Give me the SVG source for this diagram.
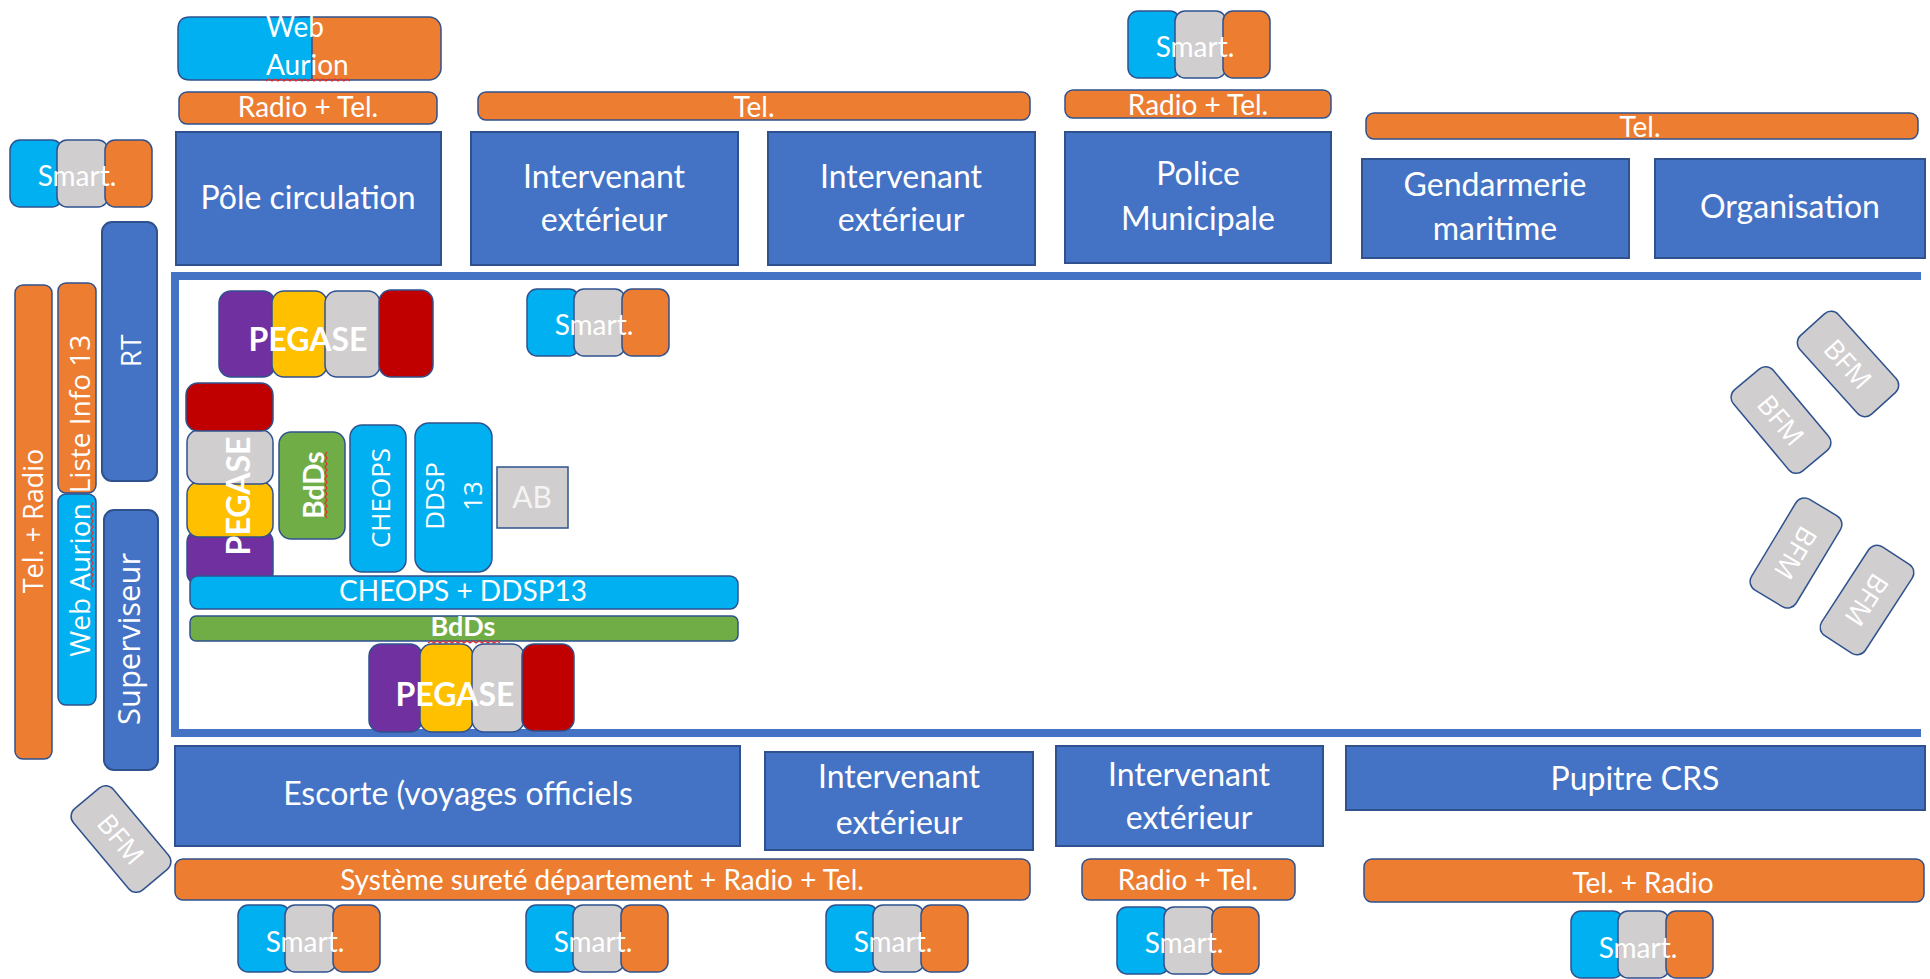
<svg xmlns="http://www.w3.org/2000/svg" xmlns:xlink="http://www.w3.org/1999/xlink" width="1930" height="979" viewBox="0 0 1930 979">
<style>
.bx{fill:#4472C4;stroke:#2F528F;stroke-width:2}
.or{fill:#ED7D31;stroke:#2F528F;stroke-width:1.5}
.cy{fill:#00B0F0;stroke:#2F528F;stroke-width:1.5}
.gy{fill:#D0CECE;stroke:#2F528F;stroke-width:1.5}
.pu{fill:#7030A0;stroke:#2F528F;stroke-width:1.5}
.ye{fill:#FFC000;stroke:#2F528F;stroke-width:1.5}
.rd{fill:#C00000;stroke:#2F528F;stroke-width:1.5}
.gr{fill:#70AD47;stroke:#2F528F;stroke-width:1.5}
.t{font-family:Lato,"Liberation Sans",sans-serif;fill:#fff;text-anchor:middle}
.big{font-size:32px}
.md{font-size:28px}
.b{font-weight:bold}
.v{font-family:"Open Sans","Liberation Sans",sans-serif;fill:#fff;text-anchor:middle}
.bfm{font-size:27px}
.wave{fill:none;stroke:#E03030;stroke-width:1.3}
.frame{fill:none;stroke:#4472C4;stroke-width:8}
</style>
<defs>
<g id="smartShape">
<rect class="cy" x="0" y="0" width="52" height="67" rx="10"/>
<rect class="gy" x="47" y="0" width="51" height="67" rx="10"/>
<rect class="or" x="95" y="0" width="47" height="67" rx="10"/>
</g>
<g id="bfmShape">
<rect class="gy" x="-53" y="-26" width="106" height="52" rx="10"/>
</g>
</defs>

<g id="connectors">
<path class="frame" d="M1921,276 H175 V733 H1921"/>
</g>

<!-- top row -->
<g id="web-aurion-top">
<rect class="or" x="290" y="17" width="151" height="63" rx="12"/>
<path class="cy" d="M190,17 H312 V80 H190 Q178,80 178,68 V29 Q178,17 190,17 Z"/>
<text class="t md" x="266" y="37" style="text-anchor:start">Web</text>
<text class="t md" x="266" y="75" style="text-anchor:start">Aurion</text>
<path class="wave" d="M266,81 l3,-2 l3,2 l3,-2 l3,2 l3,-2 l3,2 l3,-2 l3,2 l3,-2 l3,2 l3,-2 l3,2 l3,-2 l3,2 l3,-2 l3,2 l3,-2 l3,2 l3,-2 l3,2 l3,-2 l3,2 l3,-2 l3,2 l3,-2 l3,2 l3,-2 l3,2"/>
</g>
<g id="radio-tel-1">
<rect class="or" x="179" y="92" width="258" height="32" rx="8"/>
<text class="t md" x="308" y="117">Radio + Tel.</text>
</g>
<g id="smart-left">
<use xlink:href="#smartShape" x="10" y="140"/>
<text class="t md" x="77" y="186">Smart.</text>
</g>
<g id="pole-circulation">
<rect class="bx" x="176" y="132" width="265" height="133"/>
<text class="t big" x="308" y="209">Pôle circulation</text>
</g>
<g id="tel-top-mid">
<rect class="or" x="478" y="92" width="552" height="28" rx="8"/>
<text class="t md" x="754" y="117">Tel.</text>
</g>
<g id="intervenant-1">
<rect class="bx" x="471" y="132" width="267" height="133"/>
<text class="t big" x="604" y="188">Intervenant</text>
<text class="t big" x="604" y="231">extérieur</text>
</g>
<g id="intervenant-2">
<rect class="bx" x="768" y="132" width="267" height="133"/>
<text class="t big" x="901" y="188">Intervenant</text>
<text class="t big" x="901" y="231">extérieur</text>
</g>
<g id="smart-top">
<use xlink:href="#smartShape" x="1128" y="11"/>
<text class="t md" x="1195" y="57">Smart.</text>
</g>
<g id="radio-tel-2">
<rect class="or" x="1065" y="90" width="266" height="28" rx="8"/>
<text class="t md" x="1198" y="115">Radio + Tel.</text>
</g>
<g id="police-municipale">
<rect class="bx" x="1065" y="132" width="266" height="131"/>
<text class="t big" x="1198" y="185">Police</text>
<text class="t big" x="1198" y="230">Municipale</text>
</g>
<g id="tel-top-right">
<rect class="or" x="1366" y="113" width="552" height="26" rx="8"/>
<text class="t md" x="1640" y="137">Tel.</text>
</g>
<g id="gendarmerie">
<rect class="bx" x="1362" y="159" width="267" height="99"/>
<text class="t big" x="1495" y="196">Gendarmerie</text>
<text class="t big" x="1495" y="240">maritime</text>
</g>
<g id="organisation">
<rect class="bx" x="1655" y="159" width="270" height="99"/>
<text class="t big" x="1790" y="218">Organisation</text>
</g>

<!-- left column -->
<g id="tel-radio-left">
<rect class="or" x="15" y="285" width="37" height="474" rx="8"/>
<text class="v" style="font-size:27px" transform="translate(43,521) rotate(-90)">Tel. + Radio</text>
</g>
<g id="liste-info">
<rect class="or" x="58" y="283" width="38" height="210" rx="8"/>
<text class="v" style="font-size:28px" transform="translate(90,414) rotate(-90)">Liste Info 13</text>
</g>
<g id="web-aurion-left">
<rect class="cy" x="58" y="494" width="38" height="211" rx="8"/>
<text class="v" style="font-size:28px" transform="translate(90,580) rotate(-90)">Web Aurion</text>
<path class="wave" d="M93,503 l-2,3 l2,3 l-2,3 l2,3 l-2,3 l2,3 l-2,3 l2,3 l-2,3 l2,3 l-2,3 l2,3 l-2,3 l2,3 l-2,3 l2,3 l-2,3 l2,3 l-2,3 l2,3 l-2,3 l2,3 l-2,3 l2,3 l-2,3 l2,3 l-2,3 l2,3"/>
</g>
<g id="rt">
<rect class="bx" x="102" y="222" width="55" height="259" rx="10"/>
<text class="v" style="font-size:28px" transform="translate(141,351) rotate(-90)">RT</text>
</g>
<g id="superviseur">
<rect class="bx" x="104" y="510" width="54" height="260" rx="10"/>
<text class="v" style="font-size:31px" transform="translate(140,639) rotate(-90)">Superviseur</text>
</g>
<g id="bfm-left" transform="translate(121,839) rotate(50)">
<use xlink:href="#bfmShape"/>
<text class="v bfm" y="10">BFM</text>
</g>

<!-- inside frame -->
<g id="pegase-top">
<rect class="pu" x="219" y="291" width="56" height="86" rx="12"/>
<rect class="ye" x="272" y="291" width="55" height="86" rx="12"/>
<rect class="gy" x="325" y="291" width="55" height="86" rx="12"/>
<rect class="rd" x="379" y="290" width="54" height="87" rx="12"/>
<text class="t b" style="font-size:32px" x="308" y="351">PEGASE</text>
</g>
<g id="smart-frame">
<use xlink:href="#smartShape" x="527" y="289"/>
<text class="t md" x="594" y="335">Smart.</text>
</g>
<g id="pegase-vertical">
<rect class="pu" x="187" y="530" width="86" height="55" rx="12"/>
<rect class="ye" x="187" y="482" width="86" height="55" rx="12"/>
<rect class="gy" x="187" y="430" width="86" height="54" rx="12"/>
<rect class="rd" x="186" y="383" width="87" height="48" rx="12"/>
<text class="t b" style="font-size:32px" transform="translate(250,496) rotate(-90)">PEGASE</text>
</g>
<g id="bdds-vertical">
<rect class="gr" x="279" y="432" width="66" height="107" rx="12"/>
<text class="t b" style="font-size:28px" transform="translate(324,485) rotate(-90)">BdDs</text>
<path class="wave" d="M327,452 l-2,3 l2,3 l-2,3 l2,3 l-2,3 l2,3 l-2,3 l2,3 l-2,3 l2,3 l-2,3 l2,3 l-2,3 l2,3 l-2,3 l2,3 l-2,3 l2,3 l-2,3 l2,3 l-2,3 l2,3"/>
</g>
<g id="cheops-vertical">
<rect class="cy" x="350" y="425" width="56" height="147" rx="12"/>
<text class="v" style="font-size:26px" transform="translate(390,498) rotate(-90)">CHEOPS</text>
</g>
<g id="ddsp-vertical">
<rect class="cy" x="415" y="423" width="77" height="149" rx="14"/>
<text class="v" style="font-size:26px" transform="translate(444,496) rotate(-90)">DDSP</text>
<text class="v" style="font-size:26px" transform="translate(482,496) rotate(-90)">13</text>
</g>
<g id="ab">
<rect class="gy" x="497" y="467" width="71" height="61"/>
<text class="t" style="font-size:30px;fill:#F4F4F4" x="532" y="508">AB</text>
</g>
<g id="cheops-ddsp-bar">
<rect class="cy" x="190" y="576" width="548" height="33" rx="8"/>
<text class="t md" x="463" y="601">CHEOPS + DDSP13</text>
</g>
<g id="bdds-bar">
<rect class="gr" x="190" y="616" width="548" height="25" rx="6"/>
<text class="t b" style="font-size:27px" x="463" y="636">BdDs</text>
<path class="wave" d="M428,643 l3,-2 l3,2 l3,-2 l3,2 l3,-2 l3,2 l3,-2 l3,2 l3,-2 l3,2 l3,-2 l3,2 l3,-2 l3,2 l3,-2 l3,2 l3,-2 l3,2 l3,-2 l3,2 l3,-2 l3,2 l3,-2 l3,2"/>
</g>
<g id="pegase-bottom">
<rect class="pu" x="369" y="644" width="53" height="88" rx="12"/>
<rect class="ye" x="420" y="644" width="53" height="88" rx="12"/>
<rect class="gy" x="472" y="644" width="52" height="88" rx="12"/>
<rect class="rd" x="522" y="644" width="52" height="87" rx="12"/>
<text class="t b" style="font-size:32px" x="455" y="706">PEGASE</text>
</g>
<g id="bfm-1" transform="translate(1848,364) rotate(48)">
<use xlink:href="#bfmShape"/>
<text class="v bfm" y="10">BFM</text>
</g>
<g id="bfm-2" transform="translate(1781,420) rotate(50)">
<use xlink:href="#bfmShape"/>
<text class="v bfm" y="10">BFM</text>
</g>
<g id="bfm-3" transform="translate(1796,553) rotate(121)">
<use xlink:href="#bfmShape"/>
<text class="v bfm" y="10">BFM</text>
</g>
<g id="bfm-4" transform="translate(1867,600) rotate(123)">
<use xlink:href="#bfmShape"/>
<text class="v bfm" y="10">BFM</text>
</g>

<!-- bottom row -->
<g id="escorte">
<rect class="bx" x="175" y="746" width="565" height="100"/>
<text class="t big" x="458" y="805">Escorte (voyages officiels</text>
</g>
<g id="intervenant-b1">
<rect class="bx" x="765" y="752" width="268" height="98"/>
<text class="t big" x="899" y="788">Intervenant</text>
<text class="t big" x="899" y="834">extérieur</text>
</g>
<g id="intervenant-b2">
<rect class="bx" x="1056" y="746" width="267" height="100"/>
<text class="t big" x="1189" y="786">Intervenant</text>
<text class="t big" x="1189" y="829">extérieur</text>
</g>
<g id="pupitre-crs">
<rect class="bx" x="1346" y="746" width="579" height="64"/>
<text class="t big" x="1635" y="790">Pupitre CRS</text>
</g>
<g id="systeme-bar">
<rect class="or" x="175" y="859" width="855" height="41" rx="8"/>
<text class="t md" x="602" y="890">Système sureté département + Radio + Tel.</text>
</g>
<g id="radio-tel-b">
<rect class="or" x="1082" y="859" width="213" height="41" rx="8"/>
<text class="t md" x="1188" y="890">Radio + Tel.</text>
</g>
<g id="tel-radio-b">
<rect class="or" x="1364" y="859" width="560" height="43" rx="8"/>
<text class="t md" x="1643" y="893">Tel. + Radio</text>
</g>
<g id="smart-b1">
<use xlink:href="#smartShape" x="238" y="905"/>
<text class="t md" x="305" y="952">Smart.</text>
</g>
<g id="smart-b2">
<use xlink:href="#smartShape" x="526" y="905"/>
<text class="t md" x="593" y="952">Smart.</text>
</g>
<g id="smart-b3">
<use xlink:href="#smartShape" x="826" y="905"/>
<text class="t md" x="893" y="952">Smart.</text>
</g>
<g id="smart-b4">
<use xlink:href="#smartShape" x="1117" y="907"/>
<text class="t md" x="1184" y="953">Smart.</text>
</g>
<g id="smart-b5">
<use xlink:href="#smartShape" x="1571" y="911"/>
<text class="t md" x="1638" y="958">Smart.</text>
</g>
</svg>
